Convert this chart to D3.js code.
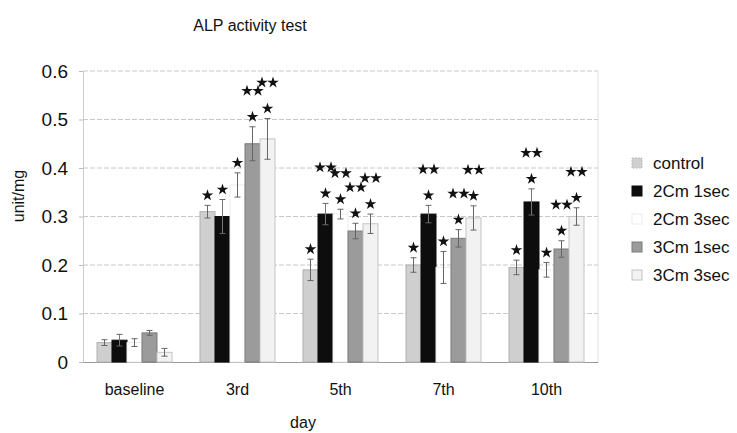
<!DOCTYPE html>
<html><head><meta charset="utf-8">
<script src="https://cdn.jsdelivr.net/npm/d3@7"></script>
<style>body{margin:0;background:#fff}svg{display:block}text{font-family:"Liberation Sans",Arial,sans-serif}</style>
</head><body><svg id="c" width="737" height="433"></svg>
<script>
const days = ["baseline", "3rd", "5th", "7th", "10th"];
const seriesNames = ["control", "2Cm 1sec", "2Cm 3sec", "3Cm 1sec", "3Cm 3sec"];
const control   = [0.040, 0.310, 0.190, 0.200, 0.195];
const cm2s1     = [0.045, 0.300, 0.305, 0.305, 0.330];
const cm2s3     = [0.040, 0.365, 0.305, 0.195, 0.190];
const cm3s1     = [0.060, 0.450, 0.270, 0.255, 0.233];
const cm3s3     = [0.020, 0.460, 0.285, 0.297, 0.300];
const controlErr = [0.006, 0.013, 0.022, 0.015, 0.015];
const cm2s1Err   = [0.012, 0.035, 0.022, 0.018, 0.027];
const cm2s3Err   = [0.008, 0.025, 0.010, 0.033, 0.015];
const cm3s1Err   = [0.005, 0.035, 0.016, 0.018, 0.017];
const cm3s3Err   = [0.008, 0.042, 0.020, 0.025, 0.018];
// significance marks: 0 none, 1 "*", 2 "*" and "**"
const controlSig = [0, 1, 1, 1, 1];
const cm2s1Sig   = [0, 1, 2, 2, 2];
const cm2s3Sig   = [0, 1, 2, 1, 1];
const cm3s1Sig   = [0, 2, 2, 2, 2];
const cm3s3Sig   = [0, 2, 2, 2, 2];
const yTicks = [0, 0.1, 0.2, 0.3, 0.4, 0.5, 0.6];

const values = [control, cm2s1, cm2s3, cm3s1, cm3s3];
const errs = [controlErr, cm2s1Err, cm2s3Err, cm3s1Err, cm3s3Err];
const sigs = [controlSig, cm2s1Sig, cm2s3Sig, cm3s1Sig, cm3s3Sig];
const fills = ["#cfcfcf", "#0d0d0d", "#ffffff", "#9b9b9b", "#f2f2f2"];
const strokes = ["#b0b0b0", "#0d0d0d", "#ececec", "#7a7a7a", "#c4c4c4"];

const svg = d3.select("#c");
const L = 83, R = 598, T = 71, B = 362;
const x = d3.scaleBand().domain(days).range([L, R]).paddingInner(0.272).paddingOuter(0.136);
const xs = d3.scaleBand().domain(seriesNames).range([0, x.bandwidth()]);
const y = d3.scaleLinear().domain([0, 0.6]).range([B, T]);

// grid
svg.append("g").selectAll("line").data(yTicks.filter(d => d > 0)).join("line")
  .attr("x1", L).attr("x2", R).attr("y1", d => y(d)).attr("y2", d => y(d))
  .attr("stroke", "#c8c8c8").attr("stroke-dasharray", "5,2").attr("stroke-width", 1);
svg.append("line").attr("x1", R).attr("x2", R).attr("y1", T).attr("y2", B).attr("stroke", "#e0e0e0");

// axes
const ya = svg.append("g").attr("transform", `translate(${L},0)`)
  .call(d3.axisLeft(y).tickValues(yTicks).tickSize(4).tickPadding(11).tickFormat(d => d === 0 ? "0" : d3.format(".1f")(d)));
ya.select(".domain").attr("stroke", "#cccccc");
ya.selectAll(".tick line").attr("stroke", "#bbb");
ya.selectAll("text").attr("font-size", 19).attr("fill", "#111");

const xa = svg.append("g").attr("transform", `translate(0,${B})`)
  .call(d3.axisBottom(x).tickSize(0).tickPadding(22));
xa.select(".domain").attr("stroke", "#9a9a9a");
xa.selectAll("text").attr("font-size", 16).attr("fill", "#111");

// bars
const star = d3.symbol().type(d3.symbolStar).size(42);
seriesNames.forEach((s, si) => {
  const g = svg.append("g");
  const data = days.map((d, di) => ({d, v: values[si][di], e: errs[si][di], sig: sigs[si][di]}));
  g.selectAll("rect").data(data).join("rect")
    .attr("x", d => x(d.d) + xs(s)).attr("width", xs.bandwidth())
    .attr("y", d => y(d.v)).attr("height", d => B - y(d.v))
    .attr("fill", fills[si]).attr("stroke", strokes[si]).attr("stroke-width", 1);
  const cx = d => x(d.d) + xs(s) + xs.bandwidth() / 2;
  g.selectAll("line.eb").data(data).join("line").attr("class", "eb")
    .attr("x1", cx).attr("x2", cx).attr("y1", d => y(d.v - d.e)).attr("y2", d => y(d.v + d.e))
    .attr("stroke", si === 1 ? "#777" : "#666").attr("stroke-width", 1);
  ["top", "bot"].forEach(k => {
    g.selectAll("line.c" + k).data(data).join("line").attr("class", "c" + k)
      .attr("x1", d => cx(d) - 3).attr("x2", d => cx(d) + 3)
      .attr("y1", d => y(k === "top" ? d.v + d.e : d.v - d.e))
      .attr("y2", d => y(k === "top" ? d.v + d.e : d.v - d.e))
      .attr("stroke", "#666").attr("stroke-width", 1);
  });
  data.forEach(d => {
    if (d.sig < 1) return;
    const sy = y(d.v + d.e) - 10;
    svg.append("path").attr("d", star).attr("transform", `translate(${cx(d)},${sy})`).attr("fill", "#111");
    if (d.sig > 1) {
      [-5.5, 5.5].forEach(o => svg.append("path").attr("d", star)
        .attr("transform", `translate(${cx(d) + o},${sy - 26})`).attr("fill", "#111"));
    }
  });
});

// title & labels
svg.append("text").attr("x", 250).attr("y", 31).attr("text-anchor", "middle").attr("font-size", 16).attr("fill", "#111").text("ALP activity test");
svg.append("text").attr("transform", "translate(24,196) rotate(-90)").attr("text-anchor", "middle").attr("font-size", 16).attr("fill", "#111").text("unit/mg");
svg.append("text").attr("x", 303).attr("y", 428).attr("text-anchor", "middle").attr("font-size", 16).attr("fill", "#111").text("day");

// legend
const lg = svg.append("g");
seriesNames.forEach((s, i) => {
  const ly = 163 + i * 28;
  lg.append("rect").attr("x", 632).attr("y", ly - 5).attr("width", 10).attr("height", 10)
    .attr("fill", fills[i]).attr("stroke", i === 0 ? "#bdbdbd" : strokes[i]).attr("stroke-dasharray", i === 0 ? "2,1" : null);
  lg.append("text").attr("x", 653).attr("y", ly).attr("dy", "0.35em").attr("font-size", 17).attr("fill", "#111").text(s);
});
</script></body></html>
